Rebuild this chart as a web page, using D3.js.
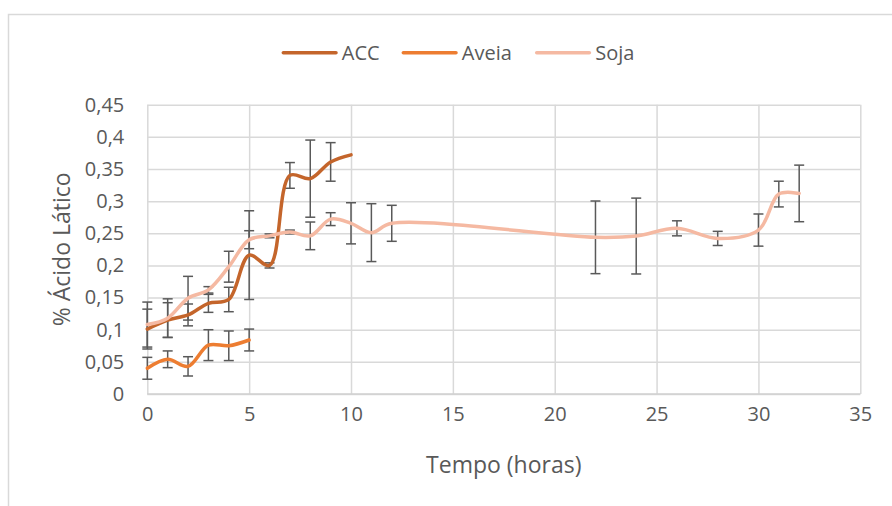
<!DOCTYPE html>
<html>
<head>
<meta charset="utf-8">
<script src="https://cdn.jsdelivr.net/npm/d3@7"></script>
<style>
  html, body { margin: 0; padding: 0; background: #fff; }
  svg { display: block; font-family: "Open Sans", sans-serif; }
</style>
</head>
<body>
<svg id="chart" width="892" height="506"></svg>
<script>
// ---- data ----
const accX = [0, 1, 2, 3, 4, 5, 6, 7, 8, 9, 10];
const accY = [0.101, 0.115, 0.123, 0.141, 0.147, 0.216, 0.200, 0.340, 0.335, 0.361, 0.372];
const accErr = [0.031, 0.027, 0.017, 0.014, 0.019, 0.069, 0.004, 0.020, 0.060, 0.030, 0];

const aveiaX = [0, 1, 2, 3, 4, 5];
const aveiaY = [0.040, 0.054, 0.043, 0.076, 0.075, 0.084];
const aveiaErr = [0.017, 0.013, 0.015, 0.024, 0.023, 0.017];

const sojaX = [0, 1, 2, 3, 4, 5, 6, 7, 8, 9, 10, 11, 12, 22, 24, 26, 28, 30, 31, 32];
const sojaY = [0.108, 0.118, 0.149, 0.162, 0.198, 0.240, 0.246, 0.252, 0.246, 0.272, 0.2655, 0.251, 0.2655, 0.2437, 0.2457, 0.2577, 0.242, 0.255, 0.311, 0.312];
const sojaErr = [0.035, 0.030, 0.034, 0.005, 0.024, 0.014, 0.003, 0.003, 0.0215, 0.010, 0.032, 0.045, 0.028, 0.0565, 0.059, 0.0117, 0.011, 0.025, 0.020, 0.044];

const seriesNames = ["ACC", "Aveia", "Soja"];
const seriesColors = ["#C4652B", "#ED7D31", "#F5B9A2"];

const xTicks = [0, 5, 10, 15, 20, 25, 30, 35];
const yTicks = [0, 0.05, 0.1, 0.15, 0.2, 0.25, 0.3, 0.35, 0.4, 0.45];
const xTitle = "Tempo (horas)";
const yTitle = "% Ácido Lático";

(function () {
const series = [
  { name: seriesNames[0], color: seriesColors[0], x: accX, y: accY, e: accErr },
  { name: seriesNames[1], color: seriesColors[1], x: aveiaX, y: aveiaY, e: aveiaErr },
  { name: seriesNames[2], color: seriesColors[2], x: sojaX, y: sojaY, e: sojaErr }
];

// ---- layout ----
const svg = d3.select("#chart");
const pLeft = 147.3, pRight = 860.3, pTop = 104.7, pBottom = 394;
const x = d3.scaleLinear().domain([0, 35]).range([pLeft, pRight]);
const y = d3.scaleLinear().domain([0, 0.45]).range([pBottom, pTop]);

// outer chart frame
svg.append("rect")
  .attr("x", 8.5).attr("y", 14.5)
  .attr("width", 1000).attr("height", 700)
  .attr("fill", "none").attr("stroke", "#D9D9D9").attr("stroke-width", 1.5);

// gridlines
const gx = svg.append("g").attr("transform", `translate(0,${pBottom})`)
  .call(d3.axisBottom(x).tickValues(xTicks).tickSize(-(pBottom - pTop)).tickFormat(""));
gx.select(".domain").remove();
gx.selectAll("line").attr("stroke", "#D9D9D9").attr("stroke-width", 1.5);

const gy = svg.append("g").attr("transform", `translate(${pLeft},0)`)
  .call(d3.axisLeft(y).tickValues(yTicks).tickSize(-(pRight - pLeft)).tickFormat(""));
gy.select(".domain").remove();
gy.selectAll("line").attr("stroke", "#D9D9D9").attr("stroke-width", 1.5);

// axis line at bottom
svg.append("line").attr("x1", pLeft).attr("x2", pRight).attr("y1", pBottom).attr("y2", pBottom)
  .attr("stroke", "#D0D0D0").attr("stroke-width", 1.5);

// tick labels
const fmt = d => String(+d.toFixed(2)).replace(".", ",");
const xl = svg.append("g").attr("transform", `translate(0,${pBottom + 10})`)
  .call(d3.axisBottom(x).tickValues(xTicks).tickSize(0).tickFormat(d => d));
xl.select(".domain").remove();
xl.selectAll("text").attr("font-size", 20).attr("fill", "#595959")
  .attr("font-family", "Open Sans, sans-serif");

const yl = svg.append("g").attr("transform", `translate(${pLeft - 20},0)`)
  .call(d3.axisLeft(y).tickValues(yTicks).tickSize(0).tickFormat(fmt));
yl.select(".domain").remove();
yl.selectAll("text").attr("font-size", 20).attr("fill", "#595959")
  .attr("font-family", "Open Sans, sans-serif");

// axis titles
svg.append("text").attr("x", (pLeft + pRight) / 2).attr("y", 473)
  .attr("text-anchor", "middle").attr("font-size", 23).attr("fill", "#595959")
  .text(xTitle);
svg.append("text").attr("transform", `translate(70,${(pTop + pBottom) / 2}) rotate(-90)`)
  .attr("text-anchor", "middle").attr("font-size", 23).attr("fill", "#595959")
  .text(yTitle);

// error bars (drawn beneath lines)
const cap = 5;
series.forEach(s => {
  const g = svg.append("g");
  s.x.forEach((xv, i) => {
    const e = s.e[i];
    if (!e) return;
    const cx = x(xv), y1 = y(s.y[i] + e), y0 = y(s.y[i] - e);
    g.append("line").attr("x1", cx).attr("x2", cx).attr("y1", y1).attr("y2", y0)
      .attr("stroke", "#595959").attr("stroke-width", 1.5);
    [y1, y0].forEach(yy => g.append("line")
      .attr("x1", cx - cap).attr("x2", cx + cap).attr("y1", yy).attr("y2", yy)
      .attr("stroke", "#595959").attr("stroke-width", 1.5));
  });
});

// lines
const line = d3.line().x(d => x(d[0])).y(d => y(d[1])).curve(d3.curveCatmullRom.alpha(0.5));
series.forEach(s => {
  svg.append("path")
    .datum(s.x.map((xv, i) => [xv, s.y[i]]))
    .attr("d", line)
    .attr("fill", "none").attr("stroke", s.color).attr("stroke-width", 3.5)
    .attr("stroke-linecap", "round").attr("stroke-linejoin", "round");
});

// legend
const legendX = [283.3, 403.3, 536.7];
const legendY = 52.7;
series.forEach((s, i) => {
  const g = svg.append("g");
  g.append("line").attr("x1", legendX[i]).attr("x2", legendX[i] + 52.7)
    .attr("y1", legendY).attr("y2", legendY)
    .attr("stroke", s.color).attr("stroke-width", 3.5).attr("stroke-linecap", "round");
  g.append("text").attr("x", legendX[i] + 58.5).attr("y", legendY + 7.5)
    .attr("font-size", 20).attr("fill", "#595959").text(s.name);
});
})();
</script>
</body>
</html>
